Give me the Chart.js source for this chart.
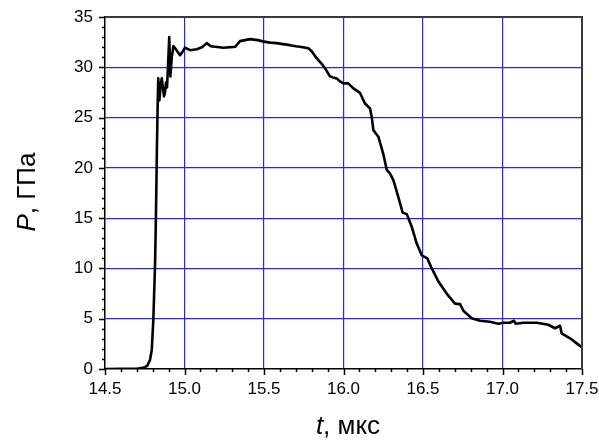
<!DOCTYPE html>
<html><head><meta charset="utf-8">
<script src="https://cdn.jsdelivr.net/npm/chart.js@4/dist/chart.umd.min.js"></script>
<style>html,body{margin:0;padding:0;background:#fff;}#wrap{width:599px;height:443px;position:relative;}</style>
</head><body><div id="wrap"><canvas id="c" width="599" height="443"></canvas></div>
<script>
// time, microseconds
const timeUs = [14.50, 14.70, 14.74, 14.765, 14.783, 14.794, 14.804, 14.815, 14.819, 14.823, 14.827, 14.831, 14.835,
  14.842, 14.850, 14.857, 14.864, 14.871, 14.878, 14.884, 14.890, 14.896, 14.904, 14.911, 14.920, 14.930,
  14.950, 14.972, 14.990, 15.003, 15.035, 15.077, 15.110, 15.140, 15.165, 15.192, 15.244, 15.290, 15.320,
  15.349, 15.380, 15.412, 15.460, 15.500, 15.540, 15.580, 15.620, 15.663, 15.700, 15.726, 15.779, 15.800,
  15.831, 15.860, 15.884, 15.915, 15.940, 15.957, 15.978, 15.999, 16.030, 16.062, 16.104, 16.135, 16.167,
  16.178, 16.188, 16.219, 16.250, 16.272, 16.292, 16.313, 16.345, 16.372, 16.398, 16.429, 16.460, 16.492,
  16.527, 16.555, 16.597, 16.649, 16.701, 16.733, 16.754, 16.806, 16.858, 16.921, 16.974, 17.004, 17.047,
  17.072, 17.083, 17.131, 17.215, 17.288, 17.330, 17.362, 17.372, 17.425, 17.500];
// pressure, GPa
const pressureGPa = [0.0, 0.02, 0.12, 0.3, 0.9, 1.9, 4.9, 10.5, 14.0, 18.0, 22.5, 26.0, 28.9,
  26.7, 28.2, 28.9, 28.0, 27.1, 27.6, 28.5, 28.0, 30.0, 33.0, 29.1, 31.0, 32.1,
  31.7, 31.2, 31.6, 31.95, 31.7, 31.8, 32.0, 32.4, 32.1, 32.05, 31.95, 32.0, 32.05,
  32.6, 32.7, 32.8, 32.7, 32.55, 32.45, 32.4, 32.3, 32.2, 32.1, 32.05, 31.9, 31.6,
  30.9, 30.4, 29.9, 29.1, 28.95, 28.9, 28.6, 28.4, 28.4, 27.9, 27.45, 26.4, 25.9,
  25.0, 23.75, 23.1, 21.4, 19.8, 19.45, 18.8, 17.1, 15.55, 15.4, 14.15, 12.5, 11.3,
  11.0, 10.0, 8.7, 7.5, 6.5, 6.45, 5.8, 5.05, 4.8, 4.7, 4.5, 4.6, 4.6,
  4.8, 4.5, 4.6, 4.6, 4.4, 4.05, 4.3, 3.55, 3.05, 2.15];
const xRange = [14.5, 17.5];
const yRange = [0, 35];
const xMajorStep = 0.5, xMinorStep = 0.1;
const yMajorStep = 5, yMinorStep = 1;
const xTitleItalic = 't', xTitleRest = ', мкс';
const yTitleItalic = 'P', yTitleRest = ', ГПа';

const FONT = "'Liberation Sans', Arial, sans-serif";
const GRID = '#2424ff';
const TITLE_SIZE = 26;

const extrasPlugin = {
  id: 'extras',
  afterDraw(chart) {
    const { ctx, chartArea: a, scales: { x, y } } = chart;
    ctx.save();
    ctx.strokeStyle = '#3a3a3a'; ctx.lineWidth = 2;
    ctx.beginPath();
    ctx.moveTo(a.left, a.top); ctx.lineTo(a.right, a.top); ctx.lineTo(a.right, a.bottom);
    ctx.stroke();
    ctx.strokeStyle = '#000'; ctx.lineWidth = 1.5;
    ctx.beginPath();
    const nx = Math.round((xRange[1] - xRange[0]) / xMinorStep);
    for (let i = 0; i <= nx; i++) {
      const v = xRange[0] + i * xMinorStep;
      const px = Math.round(x.getPixelForValue(v)) + 0.5;
      const len = (i % Math.round(xMajorStep / xMinorStep) === 0) ? 6 : 3;
      ctx.moveTo(px, a.bottom); ctx.lineTo(px, a.bottom + len);
    }
    const ny = Math.round((yRange[1] - yRange[0]) / yMinorStep);
    for (let i = 0; i <= ny; i++) {
      const v = yRange[0] + i * yMinorStep;
      const py = Math.round(y.getPixelForValue(v)) + 0.5;
      const len = (i % Math.round(yMajorStep / yMinorStep) === 0) ? 6 : 3;
      ctx.moveTo(a.left, py); ctx.lineTo(a.left - len, py);
    }
    ctx.stroke();
    ctx.fillStyle = '#000';
    ctx.textBaseline = 'alphabetic';
    const drawMixed = (it, rest, cx, by) => {
      ctx.font = 'italic ' + TITLE_SIZE + 'px ' + FONT;
      const w1 = ctx.measureText(it).width;
      ctx.font = TITLE_SIZE + 'px ' + FONT;
      const w2 = ctx.measureText(rest).width;
      const sx = cx - (w1 + w2) / 2;
      ctx.font = 'italic ' + TITLE_SIZE + 'px ' + FONT;
      ctx.textAlign = 'left';
      ctx.fillText(it, sx, by);
      ctx.font = TITLE_SIZE + 'px ' + FONT;
      ctx.fillText(rest, sx + w1, by);
    };
    drawMixed(xTitleItalic, xTitleRest, 348, 434);
    ctx.save();
    ctx.translate(35, 192);
    ctx.rotate(-Math.PI / 2);
    drawMixed(yTitleItalic, yTitleRest, 0, 0);
    ctx.restore();
    ctx.restore();
  }
};

const edgeTransparent = (edges) => (c) => {
  const v = c.tick ? c.tick.value : null;
  return (v !== null && edges.some(e => Math.abs(e - v) < 1e-9)) ? 'rgba(0,0,0,0)' : GRID;
};

new Chart(document.getElementById('c'), {
  type: 'line',
  data: {
    datasets: [{
      data: timeUs.map((t, i) => ({ x: t, y: pressureGPa[i] })),
      borderColor: '#000',
      borderWidth: 2.6,
      borderJoinStyle: 'round',
      borderCapStyle: 'round',
      pointRadius: 0,
      tension: 0.0001,
      fill: false
    }]
  },
  options: {
    responsive: false,
    animation: false,
    devicePixelRatio: 1,
    layout: { padding: { top: 17, right: 17, left: 0, bottom: 0 } },
    plugins: { legend: { display: false }, tooltip: { enabled: false } },
    scales: {
      x: {
        type: 'linear', min: xRange[0], max: xRange[1],
        afterFit: s => { s.height = 74; s.paddingLeft = 0; s.paddingRight = 0; },
        grid: { color: edgeTransparent(xRange), lineWidth: 1.2, drawTicks: false },
        border: { color: '#000', width: 1.5 },
        ticks: { stepSize: xMajorStep, padding: 10, color: '#000',
          font: { family: FONT, size: 17 }, callback: v => Number(v).toFixed(1), maxRotation: 0 }
      },
      y: {
        type: 'linear', min: yRange[0], max: yRange[1],
        afterFit: s => { s.width = 105; s.paddingTop = 0; s.paddingBottom = 0; },
        grid: { color: edgeTransparent(yRange), lineWidth: 1.2, drawTicks: false },
        border: { color: '#000', width: 1.5 },
        ticks: { stepSize: yMajorStep, padding: 12, color: '#000',
          font: { family: FONT, size: 17 } }
      }
    }
  },
  plugins: [extrasPlugin]
});
</script></body></html>
